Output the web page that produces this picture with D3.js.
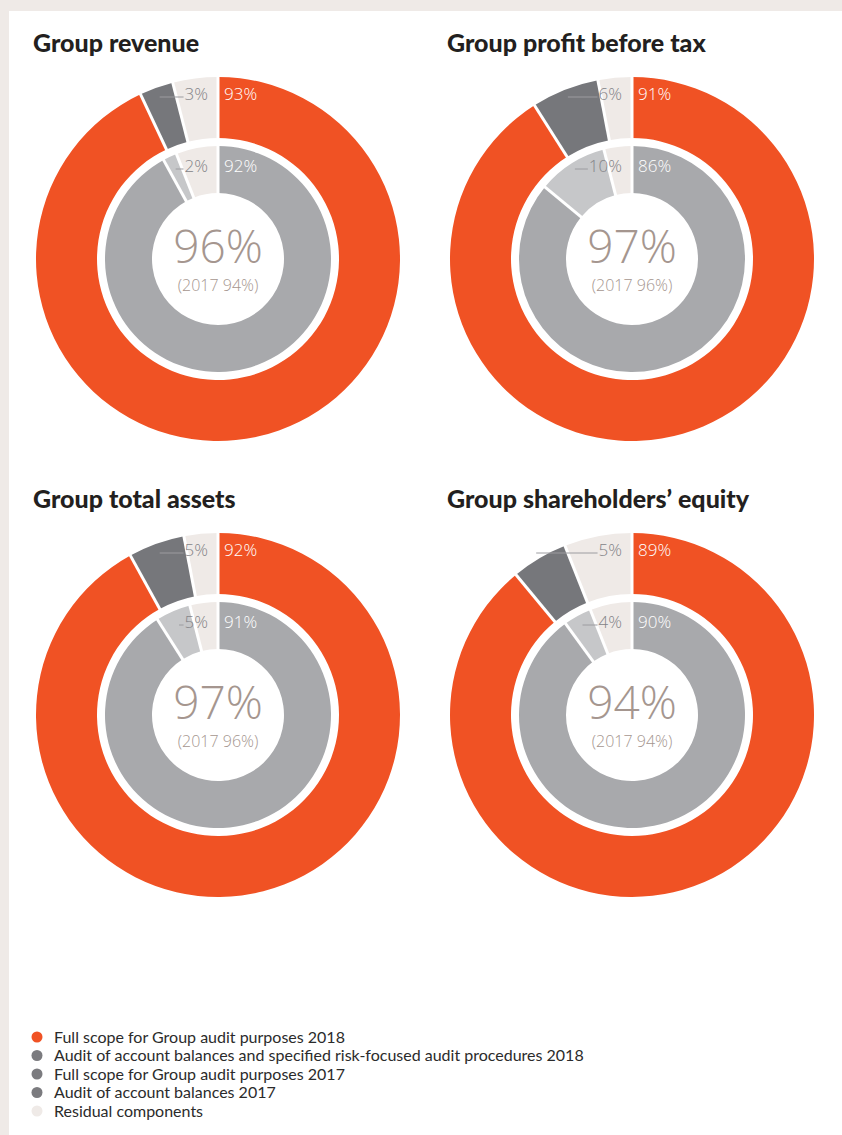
<!DOCTYPE html>
<html>
<head>
<meta charset="utf-8">
<script src="https://cdn.jsdelivr.net/npm/d3@7"></script>
<style>
  html, body { margin: 0; padding: 0; background: #efeae7; }
  svg { display: block; }
</style>
</head>
<body>
<svg id="chart" width="842" height="1135"></svg>
<script>
// Audit coverage by measure, in percent
const titles = ["Group revenue", "Group profit before tax", "Group total assets", "Group shareholders\u2019 equity"];
const fullScope2018 = [93, 91, 92, 89];
const balances2018 = [3, 6, 5, 5];
const fullScope2017 = [92, 86, 91, 90];
const balances2017 = [2, 10, 5, 4];
const legendLabels = [
  "Full scope for Group audit purposes 2018",
  "Audit of account balances and specified risk-focused audit procedures 2018",
  "Full scope for Group audit purposes 2017",
  "Audit of account balances 2017",
  "Residual components"
];

const C = {
  bg: "#efeae7",
  orange: "#f05224",
  dark: "#76777b",
  mid: "#a8a9ac",
  light: "#c6c7c9",
  residual: "#efeae7",
  legendGray: "#7b7b7f",
  label: "#848488",
  leader: "#9c9ca0",
  center: "#a5968f",
  title: "#231f20",
  text: "#2b2b2b"
};

const svg = d3.select("#chart");
svg.append("rect").attr("width", 842).attr("height", 1135).attr("fill", C.bg);
svg.append("rect").attr("x", 9).attr("y", 11).attr("width", 833).attr("height", 1124).attr("fill", "#fff");

const colX = [218, 632], rowY = [259, 715];
const R = { outerOut: 182, outerIn: 121, innerOut: 113, innerIn: 66 };

const pie = d3.pie().sort(null).value(d => d.v);

function ring(g, values, colors, r0, r1) {
  const data = values.map((v, k) => ({ v, c: colors[k] }));
  const arcs = pie(data);
  const arc = d3.arc().innerRadius(r0).outerRadius(r1);
  g.selectAll(null).data(arcs).enter().append("path")
    .attr("d", arc).attr("fill", d => d.data.c);
  // white radial gaps between slices
  g.selectAll(null).data(arcs).enter().append("line")
    .attr("x1", d => Math.sin(d.startAngle) * (r0 - 1))
    .attr("y1", d => -Math.cos(d.startAngle) * (r0 - 1))
    .attr("x2", d => Math.sin(d.startAngle) * (r1 + 1))
    .attr("y2", d => -Math.cos(d.startAngle) * (r1 + 1))
    .attr("stroke", "#fff").attr("stroke-width", 3);
  return arcs;
}

function smallLabel(g, slice, value, baseY) {
  const t = g.append("text")
    .attr("x", -10).attr("y", baseY)
    .attr("text-anchor", "end")
    .attr("font-family", "'Open Sans', sans-serif").attr("font-weight", 300)
    .attr("font-size", 17).attr("fill", C.label)
    .text(value + "%");
  const w = t.node().getComputedTextLength();
  const ly = baseY - 3;
  const mid = (slice.startAngle + slice.endAngle) / 2;
  // leader starts where the slice's mid-angle ray crosses the label line
  const sx = -Math.tan(2 * Math.PI - mid) * Math.abs(ly);
  g.append("line")
    .attr("x1", sx).attr("y1", ly)
    .attr("x2", -10 - w - 1).attr("y2", ly)
    .attr("stroke", C.leader).attr("stroke-width", 1);
}

titles.forEach((title, i) => {
  const cx = colX[i % 2], cy = rowY[Math.floor(i / 2)];

  svg.append("text")
    .attr("x", cx - 185).attr("y", cy - 207)
    .attr("font-family", "Lato, sans-serif").attr("font-weight", 900)
    .attr("font-size", 25).attr("fill", C.title)
    .text(title);

  const g = svg.append("g").attr("transform", `translate(${cx},${cy})`);

  const total18 = fullScope2018[i] + balances2018[i];
  const total17 = fullScope2017[i] + balances2017[i];

  const outer = ring(g, [fullScope2018[i], balances2018[i], 100 - total18],
    [C.orange, C.dark, C.residual], R.outerIn, R.outerOut);
  const inner = ring(g, [fullScope2017[i], balances2017[i], 100 - total17],
    [C.mid, C.light, C.residual], R.innerIn, R.innerOut);

  const font = "'Open Sans', sans-serif";
  g.append("text").attr("x", 6).attr("y", -159)
    .attr("font-family", font).attr("font-weight", 300).attr("font-size", 17)
    .attr("fill", "#fff").text(fullScope2018[i] + "%");
  g.append("text").attr("x", 6).attr("y", -87)
    .attr("font-family", font).attr("font-weight", 300).attr("font-size", 17)
    .attr("fill", "#fff").text(fullScope2017[i] + "%");

  smallLabel(g, outer[1], balances2018[i], -159);
  smallLabel(g, inner[1], balances2017[i], -87);

  g.append("text").attr("x", 0).attr("y", 4).attr("text-anchor", "middle")
    .attr("font-family", font).attr("font-weight", 300).attr("font-size", 46)
    .attr("fill", C.center).text(total18 + "%");
  g.append("text").attr("x", 0).attr("y", 32).attr("text-anchor", "middle")
    .attr("font-family", font).attr("font-weight", 300).attr("font-size", 16)
    .attr("fill", C.center).text(`(2017 ${total17}%)`);
});

// Legend
const legendColors = [C.orange, C.legendGray, C.legendGray, C.legendGray, C.residual];
const lg = svg.append("g");
legendLabels.forEach((lab, k) => {
  const y = 1037 + k * 18.5;
  lg.append("circle").attr("cx", 37).attr("cy", y).attr("r", 5.5).attr("fill", legendColors[k]);
  lg.append("text").attr("x", 54).attr("y", y + 5.5)
    .attr("font-family", "Lato, sans-serif").attr("font-size", 16)
    .attr("fill", C.text).text(lab);
});
</script>
</body>
</html>
